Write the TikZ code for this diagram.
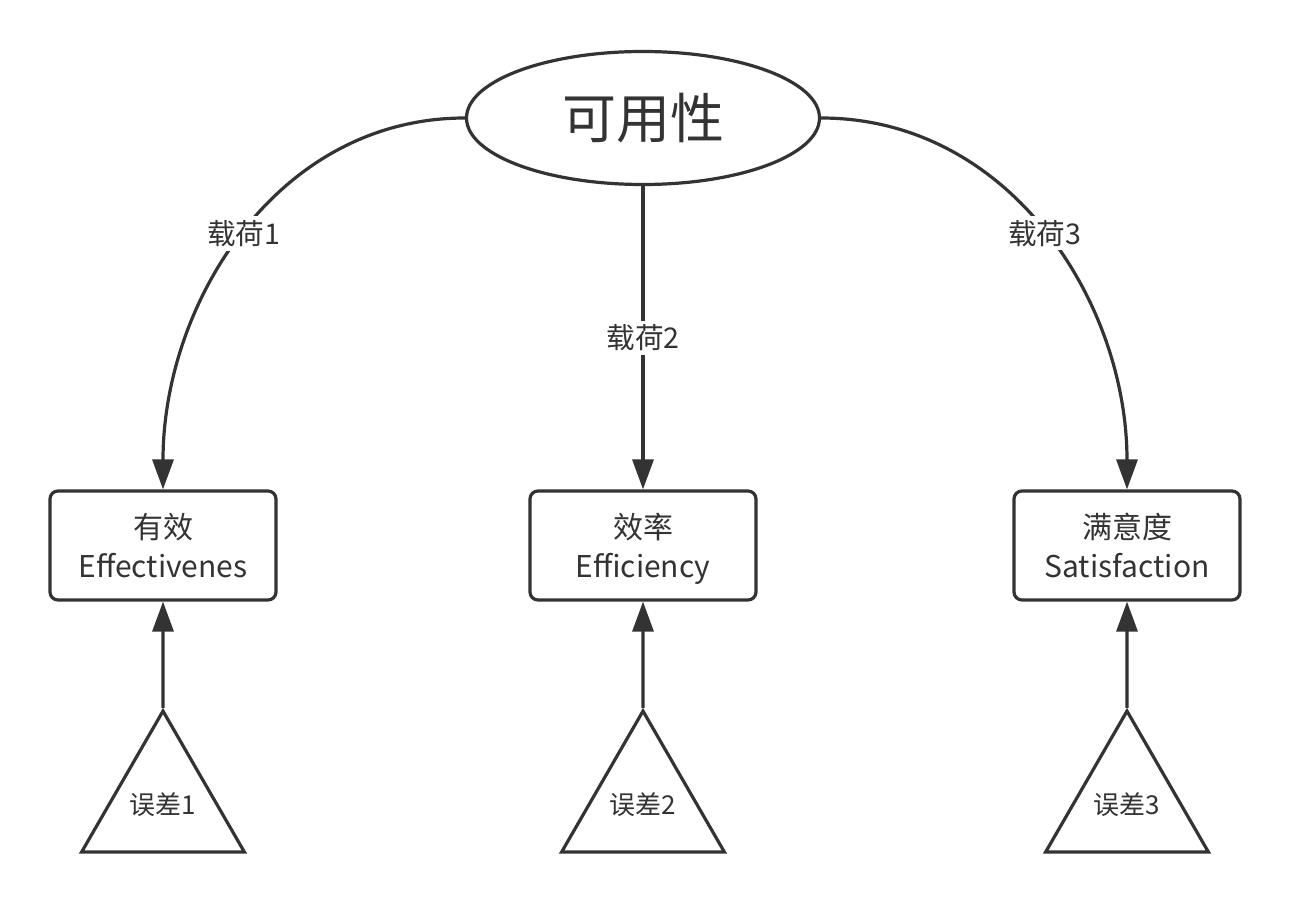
\documentclass[tikz,border=0pt]{standalone}
\usepackage{fontspec}
\setmainfont{Noto Sans CJK SC}
\usetikzlibrary{shapes.geometric,arrows.meta}
\def\boxrow{356.5}
\def\errrow{97}

\begin{document}
\begin{tikzpicture}[x=0.5pt,y=0.5pt,line width=1.6pt,color=black!80]
	\tikzstyle{latent}=[ellipse,draw,minimum width=176.5pt,minimum height=66.5pt,inner sep=0pt,font=\fontsize{27}{30}\selectfont]
	\tikzstyle{observed}=[rectangle,draw,rounded corners=4pt,minimum width=113pt,minimum height=54.5pt,align=center,text depth=0pt,font=\fontsize{15}{19.5}\selectfont]
	\tikzstyle{error}=[regular polygon,regular polygon sides=3,draw,minimum size=93pt,inner sep=0pt,font=\fontsize{13}{15}\selectfont]
	\tikzstyle{load}=[fill=white,inner sep=2pt,font=\fontsize{14.3}{16}\selectfont]
	\tikzstyle{path arrow}=[-{Triangle[length=15pt,width=10.5pt]}]

	\useasboundingbox (0,0) rectangle (1290,902);

	% Draw the latent variable
	\node[latent] (U) at (643,784) {可用性};

	% Draw the observed variables
	\foreach \name/\x/\txt in {1/163/{有效\\Effectivenes},2/643/{效率\\Efficiency},3/1127/{满意度\\Satisfaction}}
	\node[observed] (O-\name) at (\x,\boxrow) {\txt};

	% Draw the error terms
	\foreach \name/\x in {1/163,2/643,3/1127}
	\node[error] (E-\name) at (\x,\errrow) {误差\name};

	% Connect every error term with its observed variable
	\foreach \name in {1,2,3}
	\draw[path arrow] (E-\name.north) -- (O-\name.south);

	% Loadings
	\draw[path arrow] (U.west) to[out=180,in=90] node[load] {载荷1} (O-1.north);
	\draw[path arrow] (U.south) -- node[load] {载荷2} (O-2.north);
	\draw[path arrow] (U.east) to[out=0,in=90] node[load] {载荷3} (O-3.north);
\end{tikzpicture}
\end{document}
